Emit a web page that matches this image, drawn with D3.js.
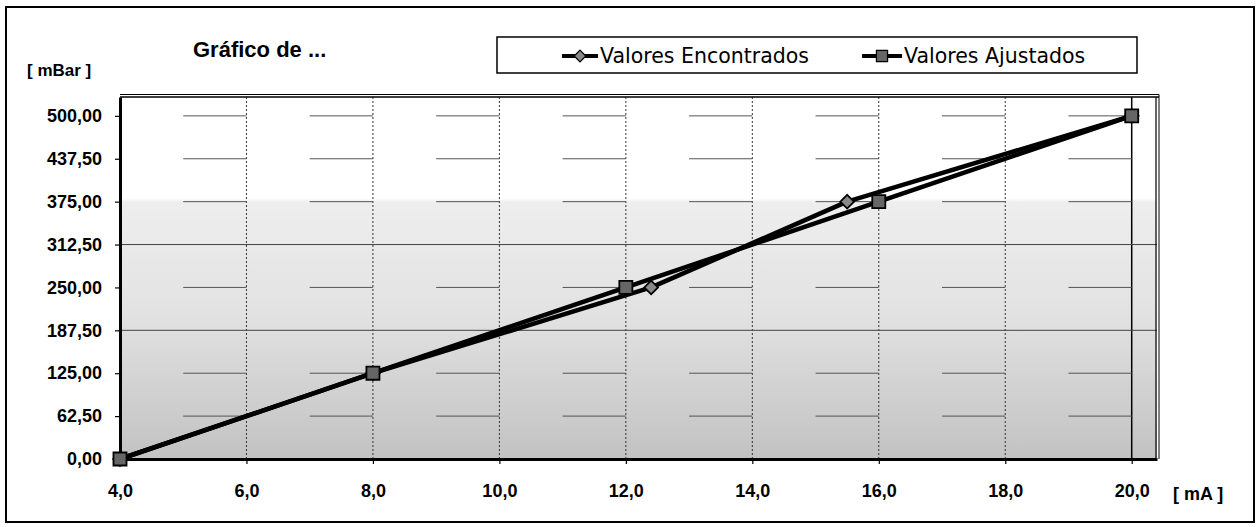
<!DOCTYPE html>
<html><head><meta charset="utf-8">
<script src="https://cdn.jsdelivr.net/npm/d3@7"></script>
<style>body{margin:0;background:#fff}svg{display:block}</style>
</head><body>
<script>
// ---- data ----
const xTicks = [4, 6, 8, 10, 12, 14, 16, 18, 20];
const xTickLabels = ["4,0", "6,0", "8,0", "10,0", "12,0", "14,0", "16,0", "18,0", "20,0"];
const yTicks = [0, 62.5, 125, 187.5, 250, 312.5, 375, 437.5, 500];
const yTickLabels = ["0,00", "62,50", "125,00", "187,50", "250,00", "312,50", "375,00", "437,50", "500,00"];
const seriesNames = ["Valores Encontrados", "Valores Ajustados"];
const encontradosX = [4, 8, 12.4, 15.5, 20];
const encontradosY = [0, 125, 250, 375, 500];
const ajustadosX = [4, 8, 12, 16, 20];
const ajustadosY = [0, 125, 250, 375, 500];
const solidGridValues = [187.5, 312.5];
const titleText = "Gráfico de ...";
const yUnit = "[ mBar ]";
const xUnit = "[ mA ]";

const W = 1259, H = 527;
const svg = d3.select("body").append("svg").attr("width", W).attr("height", H);

// outer frame
svg.append("rect").attr("x", 6).attr("y", 7).attr("width", 1248).attr("height", 515)
  .attr("fill", "#fff").attr("stroke", "#000").attr("stroke-width", 2);

const plot = {left: 120, right: 1157, top: 97, bottom: 459};
const x = d3.scaleLinear().domain([4, 20.4]).range([plot.left, plot.right]);
const y = d3.scaleLinear().domain([0, 527.5]).range([plot.bottom, plot.top]);

// background gradient
const defs = svg.append("defs");
const grad = defs.append("linearGradient").attr("id", "bg").attr("x1", 0).attr("y1", 0).attr("x2", 0).attr("y2", 1);
[[0, "#ffffff"], [0.28, "#ffffff"], [0.29, "#eeeeee"], [0.6, "#e2e2e2"], [0.8, "#d2d2d2"], [1, "#c2c2c2"]]
  .forEach(([o, c]) => grad.append("stop").attr("offset", o).attr("stop-color", c));

svg.append("rect").attr("x", plot.left).attr("y", plot.top)
  .attr("width", plot.right - plot.left).attr("height", plot.bottom - plot.top)
  .attr("fill", "url(#bg)");

// vertical grid
svg.append("g").selectAll("line").data(xTicks.slice(1)).join("line")
  .attr("x1", d => x(d)).attr("x2", d => x(d))
  .attr("y1", plot.top).attr("y2", plot.bottom)
  .attr("stroke", d => d === 20 ? "#000" : "#333")
  .attr("stroke-width", d => d === 20 ? 1.5 : 1)
  .attr("stroke-dasharray", d => d === 20 ? null : "2,2");

// horizontal grid
const half = x(5) - x(4);
svg.append("g").selectAll("line").data(yTicks.slice(1)).join("line")
  .attr("x1", plot.left).attr("x2", plot.right)
  .attr("y1", d => y(d)).attr("y2", d => y(d))
  .attr("stroke", d => solidGridValues.includes(d) ? "#444" : "#555")
  .attr("stroke-width", 1)
  .attr("stroke-dasharray", d => solidGridValues.includes(d) ? null : `${half} ${half}`)
  .attr("stroke-dashoffset", d => solidGridValues.includes(d) ? null : half);

// plot border (top/right double)
svg.append("line").attr("x1", plot.left).attr("x2", plot.right + 2).attr("y1", plot.top).attr("y2", plot.top)
  .attr("stroke", "#000").attr("stroke-width", 1.5);
svg.append("line").attr("x1", plot.left).attr("x2", plot.right + 2).attr("y1", plot.top - 2.5).attr("y2", plot.top - 2.5)
  .attr("stroke", "#000").attr("stroke-width", 1);
svg.append("line").attr("x1", plot.right - 1).attr("x2", plot.right - 1).attr("y1", plot.top).attr("y2", plot.bottom)
  .attr("stroke", "#000").attr("stroke-width", 1.2);
svg.append("line").attr("x1", plot.right + 2).attr("x2", plot.right + 2).attr("y1", plot.top - 2.5).attr("y2", plot.bottom)
  .attr("stroke", "#000").attr("stroke-width", 1);

// axes
const fontTick = "'Liberation Sans', Arial, sans-serif";
const yAxis = d3.axisLeft(y).tickValues(yTicks).tickFormat((d, i) => yTickLabels[i]).tickSize(5).tickPadding(13).tickSizeOuter(0);
const gy = svg.append("g").attr("transform", `translate(${plot.left},0)`).call(yAxis);
gy.select(".domain").attr("stroke-width", 3);
gy.selectAll(".tick line").attr("stroke-width", 1.2);
gy.selectAll("text").attr("font-family", fontTick).attr("font-weight", "bold").attr("font-size", 18).attr("fill", "#000");

const xAxis = d3.axisBottom(x).tickValues(xTicks).tickFormat((d, i) => xTickLabels[i]).tickSize(5).tickPadding(20).tickSizeOuter(0);
const gx = svg.append("g").attr("transform", `translate(0,${plot.bottom})`).call(xAxis);
gx.select(".domain").attr("stroke-width", 3);
gx.selectAll(".tick line").attr("stroke-width", 1.2);
gx.selectAll("text").attr("font-family", fontTick).attr("font-weight", "bold").attr("font-size", 18).attr("fill", "#000");

// series
const line = d3.line().x(d => x(d[0])).y(d => y(d[1]));
const encData = encontradosX.map((v, i) => [v, encontradosY[i]]);
const ajuData = ajustadosX.map((v, i) => [v, ajustadosY[i]]);

svg.append("path").datum(encData).attr("d", line).attr("fill", "none").attr("stroke", "#000").attr("stroke-width", 4.5).attr("stroke-linejoin", "round");
svg.append("path").datum(ajuData).attr("d", line).attr("fill", "none").attr("stroke", "#000").attr("stroke-width", 4.5).attr("stroke-linejoin", "round");

const diamond = d3.symbol().type(d3.symbolDiamond2).size(120);
const square = d3.symbol().type(d3.symbolSquare).size(170);

svg.append("g").selectAll("path").data(encData).join("path")
  .attr("transform", d => `translate(${x(d[0])},${y(d[1])})`)
  .attr("d", diamond).attr("fill", "#888").attr("stroke", "#000").attr("stroke-width", 1.8);
svg.append("g").selectAll("path").data(ajuData).join("path")
  .attr("transform", d => `translate(${x(d[0])},${y(d[1])})`)
  .attr("d", square).attr("fill", "#666").attr("stroke", "#000").attr("stroke-width", 1.8);

// titles
svg.append("text").attr("x", 193).attr("y", 57).text(titleText)
  .attr("font-family", fontTick).attr("font-weight", "bold").attr("font-size", 22).attr("fill", "#000");
svg.append("text").attr("x", 27).attr("y", 76).text(yUnit)
  .attr("font-family", fontTick).attr("font-weight", "bold").attr("font-size", 17).attr("fill", "#000");
svg.append("text").attr("x", 1173).attr("y", 500).text(xUnit)
  .attr("font-family", fontTick).attr("font-weight", "bold").attr("font-size", 18).attr("fill", "#000");

// legend
const lg = svg.append("g");
lg.append("rect").attr("x", 497).attr("y", 37).attr("width", 640).attr("height", 36)
  .attr("fill", "#fff").attr("stroke", "#000").attr("stroke-width", 1.5);
const legendItems = [
  {name: seriesNames[0], x1: 562, x2: 598, sym: diamond, fill: "#888"},
  {name: seriesNames[1], x1: 862, x2: 902, sym: square, fill: "#666"}
];
legendItems.forEach(it => {
  const cy = 56;
  lg.append("line").attr("x1", it.x1).attr("x2", it.x2).attr("y1", cy).attr("y2", cy).attr("stroke", "#000").attr("stroke-width", 4);
  lg.append("path").attr("transform", `translate(${(it.x1 + it.x2) / 2},${cy}) scale(0.85)`).attr("d", it.sym)
    .attr("fill", it.fill).attr("stroke", "#000").attr("stroke-width", 1.5);
  lg.append("text").attr("x", it.x2 + 2).attr("y", cy + 7).text(it.name)
    .attr("font-family", "'DejaVu Sans', sans-serif").attr("font-size", 20.5).attr("fill", "#000");
});
</script>
</body></html>
